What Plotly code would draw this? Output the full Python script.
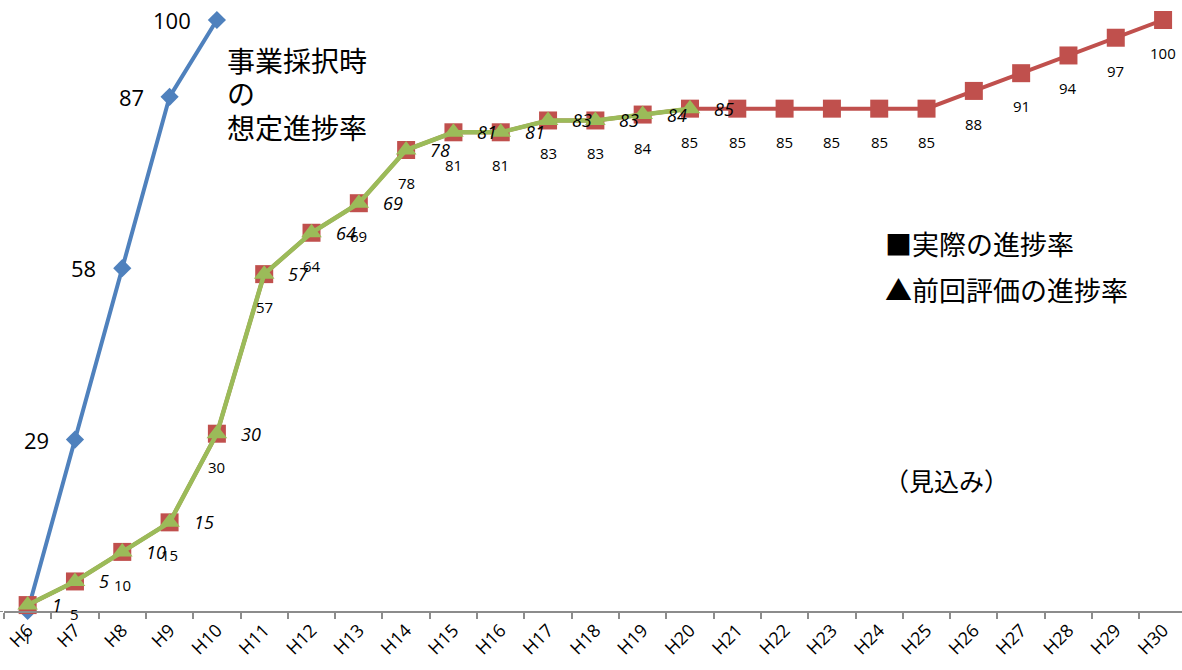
import plotly.graph_objects as go

categories = ["H6", "H7", "H8", "H9", "H10", "H11", "H12", "H13", "H14", "H15",
              "H16", "H17", "H18", "H19", "H20", "H21", "H22", "H23", "H24", "H25",
              "H26", "H27", "H28", "H29", "H30"]

planned_x = ["H6", "H7", "H8", "H9", "H10"]
planned = [0, 29, 58, 87, 100]

actual = [1, 5, 10, 15, 30, 57, 64, 69, 78, 81, 81, 83, 83, 84, 85,
          85, 85, 85, 85, 85, 88, 91, 94, 97, 100]

previous_x = categories[:15]
previous = [1, 5, 10, 15, 30, 57, 64, 69, 78, 81, 81, 83, 83, 84, 85]

BLUE = "#4F81BD"
RED = "#C0504D"
GREEN = "#9BBB59"
NUM_FONT = "Open Sans, Lato, sans-serif"
JP_FONT = "Noto Sans CJK JP, sans-serif"

W, H = 1182, 670
ML, MR, MT, MB = 4, 0, 20, 59
PW = W - ML - MR
PH = H - MT - MB


def px(x):
    return (x - ML) / PW


def py(y):
    return (H - MB - y) / PH


fig = go.Figure()

fig.add_trace(go.Scatter(
    x=planned_x, y=planned, mode="lines+markers",
    line=dict(color=BLUE, width=4),
    marker=dict(symbol="diamond", size=14, color=BLUE),
    cliponaxis=False, showlegend=False))

fig.add_trace(go.Scatter(
    x=categories, y=actual, mode="lines+markers",
    line=dict(color=RED, width=4),
    marker=dict(symbol="square", size=18, color=RED),
    cliponaxis=False, showlegend=False))

fig.add_trace(go.Scatter(
    x=previous_x, y=previous, mode="lines+markers",
    line=dict(color=GREEN, width=4.5),
    marker=dict(symbol="triangle-up", size=18, color=GREEN),
    cliponaxis=False, showlegend=False))

annotations = []
for c, v in zip(planned_x, planned):
    if v == 0:
        continue
    annotations.append(dict(x=c, y=v, xref="x", yref="y", text=str(v), showarrow=False,
                            xanchor="right", yanchor="middle", xshift=-24,
                            font=dict(family=NUM_FONT, size=22, color="black")))
for c, v in zip(categories, actual):
    annotations.append(dict(x=c, y=v, xref="x", yref="y", text=str(v), showarrow=False,
                            xanchor="center", yanchor="middle", yshift=-33,
                            font=dict(family=NUM_FONT, size=15, color="black")))
for c, v in zip(previous_x, previous):
    annotations.append(dict(x=c, y=v, xref="x", yref="y", text="<i>%d</i>" % v, showarrow=False,
                            xanchor="left", yanchor="middle", xshift=22,
                            font=dict(family=NUM_FONT, size=18, color="black")))

texts = [
    ("事業採択時", 225, 60, 28),
    ("の", 225, 93, 28),
    ("想定進捗率", 225, 127, 28),
    ("■実際の進捗率", 883, 243, 27),
    ("▲前回評価の進捗率", 883, 289, 27),
    ("（見込み）", 882, 480, 25),
]
for t, x, y, s in texts:
    annotations.append(dict(x=px(x), y=py(y), xref="paper", yref="paper", text=t,
                            showarrow=False, xanchor="left", yanchor="middle",
                            font=dict(family=JP_FONT, size=s, color="black")))

fig.update_layout(
    width=W, height=H,
    margin=dict(l=ML, r=MR, t=MT, b=MB),
    paper_bgcolor="white", plot_bgcolor="white",
    annotations=annotations,
    xaxis=dict(type="category", categoryorder="array", categoryarray=categories,
               range=[-0.5, 24.4], showgrid=False, zeroline=False, automargin=False,
               showline=True, linecolor="#8C8C8C", linewidth=1.5,
               ticks="outside", tickson="boundaries", ticklen=6, tickcolor="#8C8C8C",
               tickwidth=1.5, tickangle=-45,
               tickfont=dict(family=NUM_FONT, size=18, color="black")),
    yaxis=dict(range=[0, 100], showgrid=False, zeroline=False, showline=False,
               automargin=False,
               ticks="outside", tickvals=[0], ticklen=5, tickcolor="#8C8C8C",
               showticklabels=False),
)

fig.write_html("out.html", config={"displayModeBar": False},
               post_script="document.body.style.margin='0';document.body.style.overflow='hidden';")
